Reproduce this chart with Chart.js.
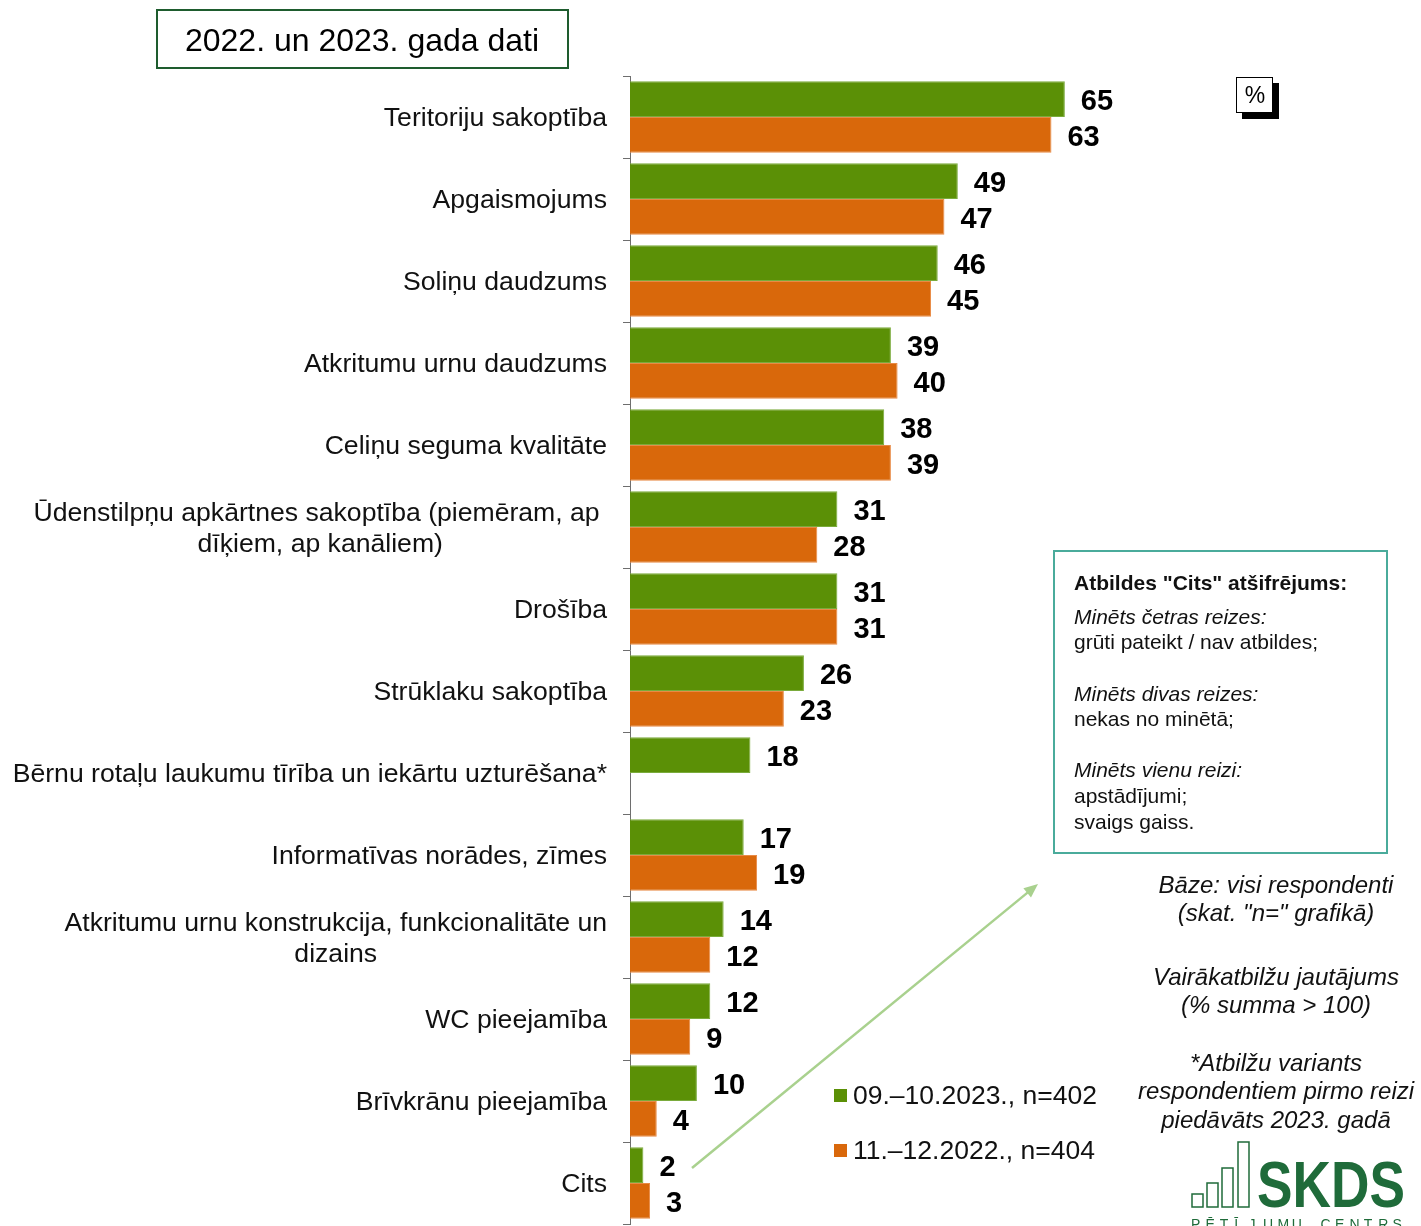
<!DOCTYPE html>
<html>
<head>
<meta charset="utf-8">
<script src="https://cdn.jsdelivr.net/npm/chart.js@4"></script>
<style>
  html, body { margin: 0; padding: 0; background: #fff; }
  canvas { display: block; }
</style>
</head>
<body>
<canvas id="myChart" width="1421" height="1226"></canvas>
<script>
const categories = [
    'Teritoriju sakoptība',
    'Apgaismojums',
    'Soliņu daudzums',
    'Atkritumu urnu daudzums',
    'Celiņu seguma kvalitāte',
    ['Ūdenstilpņu apkārtnes sakoptība (piemēram, ap ', 'dīķiem, ap kanāliem)'],
    'Drošība',
    'Strūklaku sakoptība',
    'Bērnu rotaļu laukumu tīrība un iekārtu uzturēšana*',
    'Informatīvas norādes, zīmes',
    ['Atkritumu urnu konstrukcija, funkcionalitāte un', 'dizains'],
    'WC pieejamība',
    'Brīvkrānu pieejamība',
    'Cits'
];
const values2023 = [65, 49, 46, 39, 38, 31, 31, 26, 18, 17, 14, 12, 10, 2];
const values2022 = [63, 47, 45, 40, 39, 28, 31, 23, null, 19, 12, 9, 4, 3];
const seriesNames = ['09.–10.2023., n=402', '11.–12.2022., n=404'];

const otherNotes = [
    ['b', 'Atbildes "Cits" atšifrējums:'],
    ['i', 'Minēts četras reizes:'],
    ['n', 'grūti pateikt / nav atbildes;'],
    ['i', 'Minēts divas reizes:'],
    ['n', 'nekas no minētā;'],
    ['i', 'Minēts vienu reizi:'],
    ['n', 'apstādījumi;'],
    ['n', 'svaigs gaiss.']
];
const sideNotes = [
    'Bāze: visi respondenti', '(skat. "n=" grafikā)',
    'Vairākatbilžu jautājums', '(% summa > 100)',
    '*Atbilžu variants', 'respondentiem pirmo reizi', 'piedāvāts 2023. gadā'
];

const GREEN = '#5b9006';
const ORANGE = '#d9680b';
const FONT = '"Liberation Sans", Arial, sans-serif';

// value labels next to bars + category labels on the left
const barLabels = {
    id: 'barLabels',
    afterDatasetsDraw(chart) {
        const ctx = chart.ctx;
        ctx.save();
        ctx.fillStyle = '#000';
        ctx.font = 'bold 29px ' + FONT;
        ctx.textBaseline = 'middle';
        ctx.textAlign = 'left';
        chart.data.datasets.forEach((ds, di) => {
            const meta = chart.getDatasetMeta(di);
            meta.data.forEach((bar, i) => {
                if (ds.data[i] == null) return;
                ctx.fillText(ds.data[i], bar.x + 16, bar.y + 3);
            });
        });

        // category labels, multi-line ones centred within their block
        const yScale = chart.scales.y;
        ctx.font = '26.6px ' + FONT;
        ctx.fillStyle = '#111';
        ctx.textAlign = 'center';
        categories.forEach((cat, i) => {
            const lines = Array.isArray(cat) ? cat : [cat];
            const w = Math.max(...lines.map(l => ctx.measureText(l).width));
            const cx = 607 - w / 2;
            const cy = yScale.getPixelForValue(i) + 2;
            const lh = 31;
            lines.forEach((l, k) => {
                ctx.fillText(l, cx, cy + (k - (lines.length - 1) / 2) * lh);
            });
        });
        ctx.restore();
    }
};

const decor = {
    id: 'decor',
    afterDraw(chart) {
        const ctx = chart.ctx;
        ctx.save();

        // title box
        ctx.strokeStyle = '#1e5c2e';
        ctx.lineWidth = 2;
        ctx.strokeRect(157, 10, 411, 58);
        ctx.fillStyle = '#000';
        ctx.font = '32px ' + FONT;
        ctx.textAlign = 'center';
        ctx.textBaseline = 'middle';
        ctx.fillText('2022. un 2023. gada dati', 362, 42);

        // % box with shadow
        ctx.fillStyle = '#000';
        ctx.fillRect(1242, 83, 37, 36);
        ctx.fillStyle = '#fff';
        ctx.fillRect(1236, 77, 37, 36);
        ctx.strokeStyle = '#000';
        ctx.lineWidth = 1;
        ctx.strokeRect(1236.5, 77.5, 36, 35);
        ctx.fillStyle = '#000';
        ctx.font = '23px ' + FONT;
        ctx.fillText('%', 1255, 97);

        // "Cits" explanation box
        ctx.strokeStyle = '#4aab9b';
        ctx.lineWidth = 2;
        ctx.strokeRect(1054, 551, 333, 302);
        ctx.textAlign = 'left';
        const ys = [584, 618, 643, 695, 720, 771, 797, 823];
        otherNotes.forEach((n, i) => {
            const style = n[0] === 'b' ? 'bold ' : n[0] === 'i' ? 'italic ' : '';
            ctx.font = style + '21px ' + FONT;
            ctx.fillStyle = '#111';
            ctx.fillText(n[1], 1074, ys[i]);
        });

        // side notes
        ctx.textAlign = 'center';
        ctx.font = 'italic 24px ' + FONT;
        const sy = [886, 914, 978, 1006, 1064, 1092, 1121];
        sideNotes.forEach((t, i) => ctx.fillText(t, 1276, sy[i]));

        // legend
        const colors = [GREEN, ORANGE];
        ctx.textAlign = 'left';
        ctx.font = '26.5px ' + FONT;
        seriesNames.forEach((name, i) => {
            const y = 1096 + i * 55;
            ctx.fillStyle = colors[i];
            ctx.fillRect(834, y - 7, 13, 13);
            ctx.fillStyle = '#111';
            ctx.fillText(name, 853, y + 1);
        });

        // arrow from "Cits" to the box
        ctx.strokeStyle = '#a9d18e';
        ctx.fillStyle = '#a9d18e';
        ctx.lineWidth = 2.5;
        const x1 = 692, y1 = 1168, x2 = 1038, y2 = 884;
        const ang = Math.atan2(y2 - y1, x2 - x1);
        ctx.beginPath();
        ctx.moveTo(x1, y1);
        ctx.lineTo(x2 - 10 * Math.cos(ang), y2 - 10 * Math.sin(ang));
        ctx.stroke();
        ctx.beginPath();
        ctx.moveTo(x2, y2);
        ctx.lineTo(x2 - 14 * Math.cos(ang) + 6 * Math.sin(ang), y2 - 14 * Math.sin(ang) - 6 * Math.cos(ang));
        ctx.lineTo(x2 - 14 * Math.cos(ang) - 6 * Math.sin(ang), y2 - 14 * Math.sin(ang) + 6 * Math.cos(ang));
        ctx.closePath();
        ctx.fill();

        // SKDS logo
        const LOGO = '#1f6b3a';
        ctx.strokeStyle = LOGO;
        ctx.lineWidth = 1.5;
        [[1192, 1194], [1207, 1183], [1222, 1168], [1238, 1142]].forEach(b => {
            ctx.strokeRect(b[0], b[1], 11, 1207 - b[1]);
        });
        ctx.fillStyle = LOGO;
        ctx.font = 'bold 64px ' + FONT;
        ctx.textBaseline = 'alphabetic';
        ctx.fillText('SKDS', 1257, 1207, 148);
        ctx.font = '14px ' + FONT;
        const sub = 'PĒTĪJUMU CENTRS';
        for (let i = 0; i < sub.length; i++) {
            ctx.fillText(sub[i], 1191 + i * 14.4, 1229);
        }

        ctx.restore();
    }
};

const ctx = document.getElementById('myChart').getContext('2d');
const chart = new Chart(ctx, {
    type: 'bar',
    data: {
        labels: categories,
        datasets: [{
            label: seriesNames[0],
            data: values2023,
            backgroundColor: GREEN,
            borderColor: '#7aab3c',
            borderWidth: 1
        }, {
            label: seriesNames[1],
            data: values2022,
            backgroundColor: ORANGE,
            borderColor: '#e88a45',
            borderWidth: 1
        }]
    },
    options: {
        indexAxis: 'y',
        responsive: false,
        animation: false,
        devicePixelRatio: 1,
        categoryPercentage: 0.87,
        barPercentage: 1.0,
        layout: { padding: { top: 76, bottom: 2, right: 122, left: 0 } },
        plugins: {
            legend: { display: false },
            tooltip: { enabled: false }
        },
        scales: {
            x: {
                display: false,
                min: 0,
                max: 100
            },
            y: {
                afterFit(scale) { scale.width = 630; },
                ticks: { display: false },
                grid: {
                    offset: true,
                    drawOnChartArea: false,
                    drawTicks: true,
                    tickLength: 7,
                    color: '#6e6e6e'
                },
                border: { display: true, color: '#6e6e6e', width: 1 }
            }
        }
    },
    plugins: [barLabels, decor]
});
</script>
</body>
</html>
